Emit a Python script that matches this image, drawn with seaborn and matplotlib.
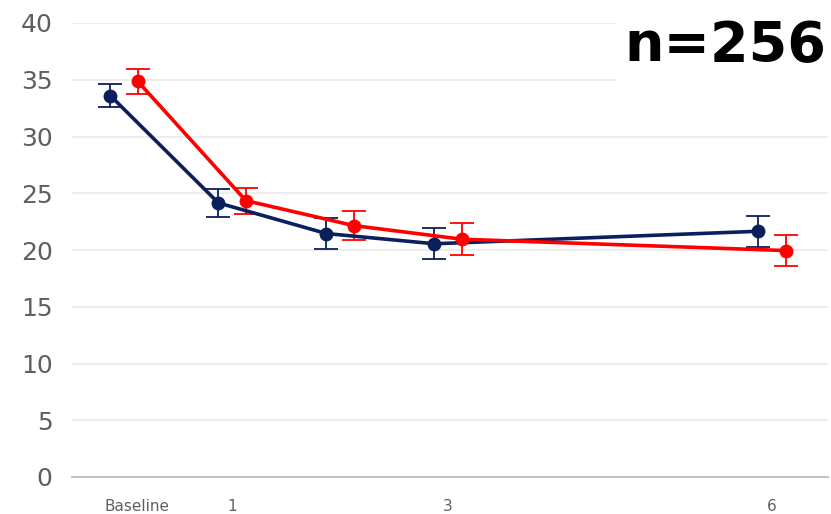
import numpy as np
import pandas as pd
import matplotlib.pyplot as plt
import seaborn as sns

# Data
months = [0, 1, 2, 3, 6]
tick_months = [0, 1, 3, 6]
tick_labels = ["Baseline", "1", "3", "6"]

group_a_mean = [33.6, 24.15, 21.45, 20.55, 21.65]
group_a_err = [1.0, 1.2, 1.4, 1.35, 1.35]
group_b_mean = [34.85, 24.35, 22.15, 20.95, 19.95]
group_b_err = [1.1, 1.15, 1.3, 1.4, 1.4]

sample_label = "n=256"

NAVY = "#0b1f5c"
RED = "#ff0000"
GREY_TEXT = "#5f5f5f"

sns.set_theme(style="white")
plt.rcParams["font.family"] = ["DejaVu Sans"]

df = pd.concat([
    pd.DataFrame({"month": months, "mean": group_a_mean, "err": group_a_err,
                  "group": "A", "offset": -0.125}),
    pd.DataFrame({"month": months, "mean": group_b_mean, "err": group_b_err,
                  "group": "B", "offset": 0.13}),
])
df["xpos"] = df["month"] + df["offset"]

fig = plt.figure(figsize=(8.31, 5.14), dpi=100)
ax = fig.add_axes([72 / 831, 37 / 514, 756 / 831, 454 / 514])

palette = {"A": NAVY, "B": RED}
for grp, sub in df.groupby("group"):
    color = palette[grp]
    ax.errorbar(sub["xpos"], sub["mean"], yerr=sub["err"], fmt="none",
                ecolor=color, elinewidth=1.3, capsize=8.5, capthick=1.3, zorder=3)
    sns.lineplot(data=sub, x="xpos", y="mean", ax=ax, color=color,
                 linewidth=2.6, marker="o", markersize=10, markeredgewidth=0,
                 zorder=4, legend=False)

ax.set_xlim(-0.48, 6.52)
ax.set_ylim(0, 40)
ax.set_yticks(np.arange(0, 41, 5))
ax.grid(axis="y", color="#ececec", linewidth=1.3)
ax.set_axisbelow(True)

xt = [m + (0.125 if m == 0 else 0.0) for m in tick_months]
ax.set_xticks(xt)
ax.set_xticklabels(tick_labels)

for side in ["top", "right", "left"]:
    ax.spines[side].set_visible(False)
ax.spines["bottom"].set_color("#c4c4c4")
ax.spines["bottom"].set_linewidth(1.5)

ax.tick_params(axis="y", length=0, pad=14, labelsize=18, labelcolor=GREY_TEXT)
ax.tick_params(axis="x", length=0, pad=16, labelsize=11, labelcolor=GREY_TEXT)
ax.set_xlabel("")
ax.set_ylabel("")

fig.text(826 / 831, 1 - 46 / 514, sample_label, ha="right", va="center",
         fontsize=40, fontweight="bold", color="black",
         bbox=dict(facecolor="white", edgecolor="none", pad=6))

fig.savefig("out.png", dpi=100)
plt.close(fig)
